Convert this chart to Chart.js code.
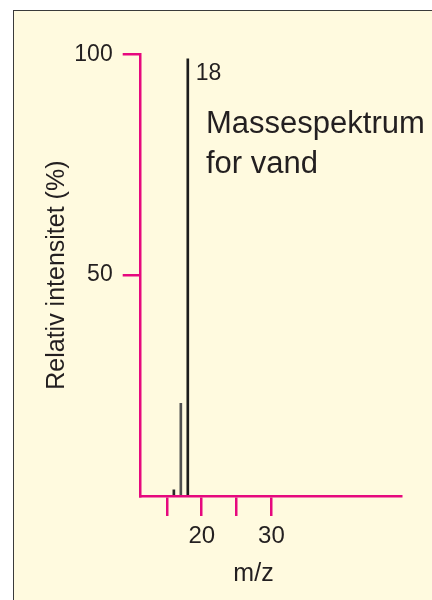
<!DOCTYPE html>
<html>
<head>
<meta charset="utf-8">
<script src="https://cdn.jsdelivr.net/npm/chart.js@4.4.1/dist/chart.umd.min.js"></script>
<style>
  html, body { margin: 0; padding: 0; background: #fff; }
  body { width: 432px; height: 600px; position: relative; overflow: hidden; }
  .panel {
    position: absolute; left: 13px; top: 10px; right: 0; bottom: 0;
    background: #FFFADF;
    border-left: 1px solid #3a3a3a;
    border-top: 1px solid #3a3a3a;
  }
  #chart { position: absolute; left: 0; top: 0; }
</style>
</head>
<body>
<div class="panel"></div>
<canvas id="chart" width="432" height="600"></canvas>
<script>
// mass spectrum of water
var massValues = [16, 17, 18];
var intensities = [1.4, 21, 99];
var peakColors = ['#2a2a2a', '#505050', '#1c1c1c'];

var xTickValues = [15, 20, 25, 30];
var xTickLabels = ['', '20', '', '30'];
var yTickValues = [0, 50, 100];

var peakLabel = '18';
var titleLines = ['Massespektrum', 'for vand'];

var MAGENTA = '#E6087E';
var TEXT = '#231f20';
var FONT = '"Liberation Sans", Arial, sans-serif';

var textPlugin = {
  id: 'textPlugin',
  afterDraw: function (chart) {
    var ctx = chart.ctx;
    var x = chart.scales.x;
    var area = chart.chartArea;
    ctx.save();
    ctx.fillStyle = TEXT;
    ctx.textBaseline = 'alphabetic';

    // label next to the base peak
    var px = x.getPixelForValue(massValues[2]);
    ctx.font = '23px ' + FONT;
    ctx.textAlign = 'left';
    ctx.fillText(peakLabel, px + 8, area.top + 26);

    // chart title
    ctx.font = '31px ' + FONT;
    ctx.fillText(titleLines[0], 206, 133);
    ctx.fillText(titleLines[1], 206, 173);

    // x axis title
    ctx.font = '25px ' + FONT;
    ctx.textAlign = 'center';
    ctx.textBaseline = 'middle';
    ctx.fillText('m/z', 253.5, 574);
    ctx.restore();
  }
};

new Chart(document.getElementById('chart').getContext('2d'), {
  type: 'bar',
  data: {
    datasets: [{
      data: massValues.map(function (m, i) { return { x: m, y: intensities[i] }; }),
      backgroundColor: peakColors,
      borderWidth: 0,
      barThickness: 2
    }]
  },
  options: {
    responsive: false,
    animation: false,
    layout: { padding: { left: 0, top: 54.3, right: 30.3, bottom: 0 } },
    plugins: { legend: { display: false }, tooltip: { enabled: false } },
    scales: {
      x: {
        type: 'linear',
        offset: false,
        min: 11.24,
        max: 48.7,
        afterBuildTicks: function (scale) {
          scale.ticks = xTickValues.map(function (v) { return { value: v }; });
        },
        afterFit: function (scale) { scale.height = 104; },
        grid: {
          offset: false,
          drawOnChartArea: false,
          drawTicks: true,
          tickLength: 20,
          color: MAGENTA,
          lineWidth: 2.5
        },
        border: { display: true, color: MAGENTA, width: 2.5 },
        ticks: {
          autoSkip: false,
          maxRotation: 0,
          padding: 6,
          color: TEXT,
          font: { family: FONT, size: 24 },
          callback: function (v) {
            var i = xTickValues.indexOf(v);
            return i >= 0 ? xTickLabels[i] : '';
          }
        }
      },
      y: {
        type: 'linear',
        min: 0,
        max: 100,
        afterBuildTicks: function (scale) {
          scale.ticks = yTickValues.map(function (v) { return { value: v }; });
        },
        afterFit: function (scale) { scale.width = 140.7; },
        grid: {
          drawOnChartArea: false,
          drawTicks: true,
          tickLength: 18,
          lineWidth: 2.5,
          color: function (c) { return c.tick && c.tick.value === 0 ? 'rgba(0,0,0,0)' : MAGENTA; }
        },
        border: { display: true, color: MAGENTA, width: 2.5 },
        ticks: {
          padding: 10,
          color: TEXT,
          font: { family: FONT, size: 23 },
          callback: function (v) { return v === 0 ? '' : String(v); }
        },
        title: {
          display: true,
          text: 'Relativ intensitet (%)',
          color: TEXT,
          font: { family: FONT, size: 25 },
          padding: { top: 42, bottom: 0 }
        }
      }
    }
  },
  plugins: [textPlugin]
});
</script>
</body>
</html>
